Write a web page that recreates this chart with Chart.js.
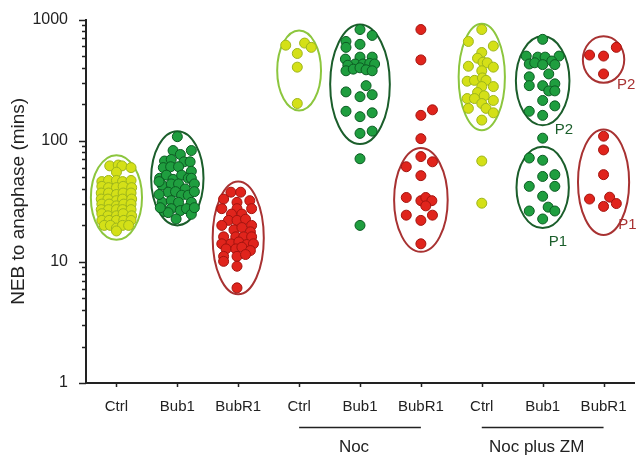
<!DOCTYPE html>
<html>
<head>
<meta charset="utf-8">
<script src="https://cdn.jsdelivr.net/npm/chart.js@4.4.0/dist/chart.umd.min.js"></script>
<style>
  html, body { margin: 0; padding: 0; background: #fff; }
</style>
</head>
<body>
<canvas id="myChart" width="640" height="458"></canvas>
<script>
// x categories and the two treatment groups under them
const CATEGORIES = ['Ctrl', 'Bub1', 'BubR1', 'Ctrl', 'Bub1', 'BubR1', 'Ctrl', 'Bub1', 'BubR1'];
const GROUPS = [
  { label: 'Noc', from: 3, to: 5 },
  { label: 'Noc plus ZM', from: 6, to: 8 },
];
const Y_TICKS = [1, 10, 100, 1000];

// each point: [jitter around the category, NEB to anaphase in mins]
const ctrlMins = [
  [-0.11, 62], [0.03, 63], [0.09, 62], [0.24, 60], [0, 55],
  [-0.24, 46], [-0.13, 47], [0, 47], [0.1, 46], [0.24, 47],
  [-0.24, 42], [-0.13, 41], [0, 41], [0.11, 42], [0.25, 41],
  [-0.25, 37], [-0.13, 37], [0, 36], [0.11, 37], [0.24, 37],
  [-0.25, 33], [-0.14, 33], [0, 32], [0.1, 33], [0.25, 33],
  [-0.24, 30], [-0.12, 30], [0, 29], [0.12, 30], [0.24, 30],
  [-0.25, 27], [-0.13, 27], [0, 27], [0.1, 27], [0.24, 27],
  [-0.24, 25], [-0.14, 24], [0, 24], [0.11, 25], [0.25, 24],
  [-0.24, 22], [-0.12, 22], [0, 22], [0.12, 22], [0.24, 22],
  [-0.2, 20], [-0.1, 20], [0, 19], [0.1, 20], [0.2, 20], [0, 18],
];
const bub1Mins = [
  [0, 108], [0.23, 83], [-0.07, 83], [0.05, 77], [-0.21, 68], [-0.1, 70], [0.11, 67], [0.21, 67],
  [-0.23, 60], [-0.11, 61], [0.02, 61], [0.23, 56], [-0.29, 49], [-0.18, 52], [-0.07, 48], [0.07, 52],
  [0.18, 49], [0.23, 49], [-0.25, 43], [-0.1, 44], [0.02, 44], [0.13, 40], [-0.15, 37.6], [-0.03, 38],
  [0.07, 35.5], [0.18, 35.5], [-0.25, 31], [-0.1, 32], [0.02, 31], [0.23, 31], [-0.21, 26], [-0.1, 27.5],
  [0.05, 26.5], [0.15, 27.5], [0.23, 24.7], [-0.15, 25.5], [-0.02, 22.6], [-0.3, 46], [0.28, 44],
  [0.28, 38], [-0.3, 36], [0.28, 28], [-0.28, 28],
];
const bubr1Mins = [
  [-0.12, 37.6], [0.04, 37.6], [0.19, 32], [-0.24, 33], [-0.02, 31], [-0.27, 27.5], [-0.02, 27.5],
  [0.22, 27.5], [-0.11, 24.8], [0.06, 24.8], [-0.16, 22], [-0.02, 22], [0.12, 22.5], [-0.27, 20],
  [0.22, 20], [-0.07, 18.4], [0.06, 19.2], [0.2, 17.7], [-0.24, 16.1], [-0.04, 16.1], [0.09, 16.1],
  [0.22, 16.1], [-0.27, 14.1], [-0.12, 14.1], [0.01, 14.6], [0.14, 13.9], [0.25, 14.1], [-0.2, 12.8],
  [-0.04, 12.8], [0.06, 13.2], [0.2, 12.4], [-0.24, 11.1], [-0.02, 11.1], [0.12, 11.5], [-0.24, 10.1],
  [-0.02, 9.2], [-0.02, 6.1],
];
const nocCtrlMins = [[-0.22, 615], [0.09, 640], [0.2, 590], [-0.03, 525], [-0.03, 405], [-0.03, 203]];
const nocBub1Mins = [
  [0, 828], [0.2, 740], [-0.23, 660], [-0.23, 590], [0, 625], [-0.24, 472], [0, 490], [0.2, 490],
  [-0.08, 430], [0.05, 430], [-0.2, 420], [0.16, 435], [0.24, 430], [-0.23, 378], [-0.11, 390],
  [0, 400], [0.1, 385], [0.2, 378], [0.1, 285], [-0.23, 253], [0, 231], [0.2, 240], [-0.23, 175],
  [0, 158], [0.2, 170], [0, 115], [0.2, 120], [0, 71], [0, 20],
];
const nocBubr1Mins = [
  [0, 828], [0, 465], [0, 162], [0.19, 180], [0, 104], [0, 74], [-0.24, 61], [0.19, 67], [0, 51.5],
  [-0.24, 34], [0, 32], [0.08, 34], [0.18, 32], [0.08, 29], [-0.24, 24.3], [0, 22], [0.19, 24.3], [0, 14.1],
];
const zmCtrlMins = [
  [0, 828], [-0.22, 660], [0.19, 605], [0, 535], [-0.07, 480], [0.02, 445], [0.09, 440], [-0.22, 412],
  [0.19, 405], [0, 378], [-0.24, 310], [-0.12, 315], [0.01, 330], [0.07, 315], [0.19, 280], [0, 280],
  [-0.07, 250], [0.04, 235], [-0.24, 223], [-0.12, 223], [0.19, 215], [0, 203], [-0.22, 185],
  [0.07, 185], [0.19, 170], [0, 148], [0, 68], [0, 30.5],
];
const zmBub1Mins = [
  [0, 687], [-0.27, 500], [0.27, 500], [-0.08, 490], [0.04, 490], [0.15, 455], [-0.22, 430], [-0.13, 440],
  [0, 425], [0.2, 425], [-0.22, 337], [0.1, 356], [-0.22, 285], [0, 285], [0.2, 295], [0.1, 258],
  [0.2, 258], [0, 215], [-0.22, 175], [0.2, 194], [0, 162], [0, 105], [-0.22, 72], [0, 69], [0, 50.7],
  [0.2, 52.5], [-0.22, 42], [0.2, 42], [0, 34.8], [-0.22, 26.3], [0.09, 28.3], [0.2, 26.3], [0, 22.6],
];
const zmBubr1Mins = [
  [0.21, 590], [-0.23, 510], [0, 500], [0, 356], [0, 109], [0, 84], [0, 52.5], [-0.23, 33],
  [0.1, 34.2], [0.21, 30.3], [0, 28.7],
];

// ellipses round the clusters: [category, low mins, high mins]
const ELLIPSES = [
  [0, 15.2, 76], [1, 20, 120], [2, 5.4, 46], [3, 178, 813], [4, 94, 910], [5, 12.1, 87],
  [6, 122, 925], [7, 134, 727], [7, 19, 89], [8, 301, 727], [8, 16.7, 124],
];
const ELLIPSE_HALF_WIDTH = [0.42, 0.43, 0.42, 0.36, 0.49, 0.44, 0.38, 0.44, 0.43, 0.34, 0.42];

// population tags: [category + shift, mins, text]
const TAGS = [[7.35, 124, 'P2'], [7.25, 14.6, 'P1'], [8.37, 290, 'P2'], [8.39, 20.2, 'P1']];

const COLORS = [
  { fill: '#d4e017', edge: '#9db51c', ring: '#8cc63e', text: '#8cc63e' },
  { fill: '#1f9e3f', edge: '#0c5c23', ring: '#1b5e2b', text: '#1b5e2b' },
  { fill: '#e0241c', edge: '#a3140f', ring: '#a83232', text: '#a83232' },
];
const FONT = "'Liberation Sans', Arial, Helvetica, sans-serif";

const series = [ctrlMins, bub1Mins, bubr1Mins, nocCtrlMins, nocBub1Mins, nocBubr1Mins, zmCtrlMins, zmBub1Mins, zmBubr1Mins];

const datasets = series.map((pts, cat) => ({
  label: CATEGORIES[cat],
  data: pts.map(([off, v]) => ({ x: cat + off, y: v })),
  pointRadius: 5,
  pointHoverRadius: 5,
  pointBorderWidth: 1,
  backgroundColor: COLORS[cat % 3].fill,
  borderColor: COLORS[cat % 3].edge,
}));

const extras = {
  id: 'extras',
  beforeDatasetsDraw(chart) {
    const { ctx, scales: { x, y } } = chart;
    const unit = x.getPixelForValue(1) - x.getPixelForValue(0);
    ctx.save();
    ctx.lineWidth = 2;
    ELLIPSES.forEach(([cat, lo, hi], i) => {
      const top = y.getPixelForValue(hi);
      const bottom = y.getPixelForValue(lo);
      ctx.strokeStyle = COLORS[cat % 3].ring;
      ctx.beginPath();
      ctx.ellipse(x.getPixelForValue(cat), (top + bottom) / 2, ELLIPSE_HALF_WIDTH[i] * unit, (bottom - top) / 2, 0, 0, Math.PI * 2);
      ctx.stroke();
    });
    ctx.restore();
  },
  afterDraw(chart) {
    const { ctx, scales: { x, y }, chartArea } = chart;
    ctx.save();
    ctx.strokeStyle = '#222';
    ctx.lineWidth = 1.5;
    ctx.beginPath();
    for (let d = 1; d <= 1000; d *= 10) {
      for (let m = 1; m <= 9 && d * m <= 1000; m++) {
        const py = Math.round(y.getPixelForValue(d * m)) + 0.5;
        ctx.moveTo(chartArea.left - (m === 1 ? 7 : 4), py);
        ctx.lineTo(chartArea.left, py);
      }
    }
    CATEGORIES.forEach((c, i) => {
      const px = Math.round(x.getPixelForValue(i)) + 0.5;
      ctx.moveTo(px, chartArea.bottom);
      ctx.lineTo(px, chartArea.bottom + 4);
    });
    ctx.stroke();

    // treatment groups under the axis
    ctx.fillStyle = '#222';
    ctx.font = '17px ' + FONT;
    ctx.textAlign = 'center';
    ctx.textBaseline = 'middle';
    GROUPS.forEach(g => {
      const x0 = x.getPixelForValue(g.from);
      const x1 = x.getPixelForValue(g.to);
      ctx.beginPath();
      ctx.moveTo(x0, chartArea.bottom + 44.5);
      ctx.lineTo(x1, chartArea.bottom + 44.5);
      ctx.stroke();
      ctx.fillText(g.label, (x0 + x1) / 2 - 6, chartArea.bottom + 64);
    });

    ctx.font = '15px ' + FONT;
    TAGS.forEach(([cx, v, text]) => {
      ctx.fillStyle = COLORS[Math.round(cx) % 3].text;
      ctx.fillText(text, x.getPixelForValue(cx), y.getPixelForValue(v));
    });
    ctx.restore();
  },
};

const ctx = document.getElementById('myChart').getContext('2d');
const myChart = new Chart(ctx, {
  type: 'scatter',
  data: { datasets },
  options: {
    responsive: false,
    animation: false,
    devicePixelRatio: 1,
    layout: { padding: { top: 11, right: 3, left: 0, bottom: 0 } },
    plugins: { legend: { display: false }, tooltip: { enabled: false } },
    scales: {
      x: {
        type: 'linear',
        min: -0.5,
        max: CATEGORIES.length - 0.5,
        grid: { display: false },
        border: { display: true, color: '#222', width: 2 },
        afterBuildTicks: (scale) => { scale.ticks = CATEGORIES.map((c, i) => ({ value: i })); },
        afterFit: (scale) => { scale.height = 75; },
        ticks: {
          autoSkip: false,
          maxRotation: 0,
          padding: 7,
          color: '#222',
          font: { family: FONT, size: 15 },
          callback: (v) => CATEGORIES[v],
        },
      },
      y: {
        type: 'logarithmic',
        min: 1,
        max: 1000,
        grid: { display: false },
        border: { display: true, color: '#222', width: 2 },
        afterBuildTicks: (scale) => { scale.ticks = Y_TICKS.map(v => ({ value: v, major: true })); },
        afterFit: (scale) => { scale.width = 86; },
        ticks: {
          padding: 10,
          color: '#222',
          font: { family: FONT, size: 16 },
          callback: (v) => String(v),
        },
        title: {
          display: true,
          text: 'NEB to anaphase (mins)',
          color: '#222',
          font: { family: FONT, size: 19 },
          padding: { top: 7, bottom: 0 },
        },
      },
    },
  },
  plugins: [extras],
});
</script>
</body>
</html>
